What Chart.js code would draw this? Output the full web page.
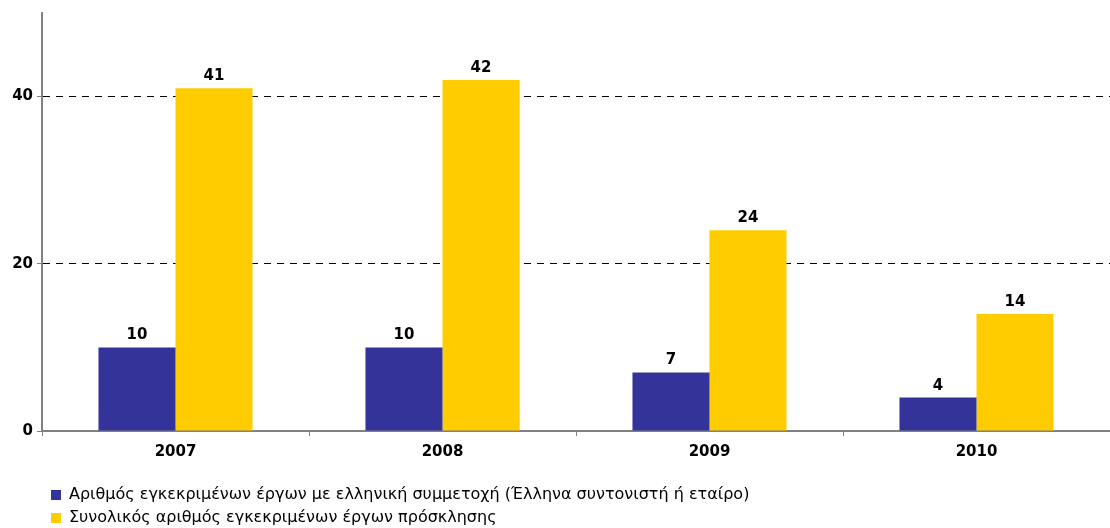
<!DOCTYPE html>
<html>
<head>
<meta charset="utf-8">
<script src="https://cdn.jsdelivr.net/npm/chart.js@4/dist/chart.umd.min.js"></script>
<style>
html,body{margin:0;padding:0;background:#fff;}
#wrap{position:relative;width:1110px;height:528px;}
</style>
</head>
<body>
<div id="wrap"><canvas id="c" width="1110" height="528"></canvas></div>
<script>
const categories = ['2007', '2008', '2009', '2010'];
const greekParticipation = [10, 10, 7, 4];
const totalApproved = [41, 42, 24, 14];
const seriesNames = [
  'Αριθμός εγκεκριμένων έργων με ελληνική συμμετοχή (Έλληνα συντονιστή ή εταίρο)',
  'Συνολικός αριθμός εγκεκριμένων έργων πρόσκλησης'
];
const yTicks = [0, 20, 40];

const FONT = '"DejaVu Sans", Verdana, sans-serif';

const valueLabels = {
  id: 'valueLabels',
  afterDatasetsDraw(chart) {
    const ctx = chart.ctx;
    ctx.save();
    ctx.font = 'bold 15px ' + FONT;
    ctx.fillStyle = '#000';
    ctx.textAlign = 'center';
    ctx.textBaseline = 'alphabetic';
    chart.data.datasets.forEach((ds, i) => {
      const meta = chart.getDatasetMeta(i);
      meta.data.forEach((bar, j) => {
        ctx.fillText(String(ds.data[j]), bar.x, bar.y - 8);
      });
    });
    ctx.restore();
  }
};

const legendShift = {
  id: 'legendShift',
  afterUpdate(chart) {
    const lg = chart.legend;
    if (!lg) return;
    lg.left += 44; lg.right += 44;
    lg.top += 14; lg.bottom += 14;
    lg.adjustHitBoxes();
  }
};

new Chart(document.getElementById('c'), {
  type: 'bar',
  data: {
    labels: categories,
    datasets: [
      { label: seriesNames[0], data: greekParticipation, backgroundColor: '#333399', borderWidth: 0 },
      { label: seriesNames[1], data: totalApproved, backgroundColor: '#FFCC00', borderWidth: 0 }
    ]
  },
  options: {
    responsive: false,
    animation: false,
    devicePixelRatio: 1,
    layout: { autoPadding: false, padding: { left: 0, right: 0, top: 4, bottom: 6 } },
    datasets: { bar: { categoryPercentage: 0.577, barPercentage: 1 } },
    plugins: {
      tooltip: { enabled: false },
      legend: {
        position: 'bottom',
        align: 'start',
        labels: {
          boxWidth: 10,
          boxHeight: 10,
          padding: 7,
          color: '#000',
          font: { family: FONT, size: 16 }
        }
      }
    },
    scales: {
      x: {
        afterFit: (axis) => { axis.height = 35; },
        grid: {
          offset: true,
          drawOnChartArea: false,
          drawTicks: true,
          tickLength: 5,
          color: '#808080'
        },
        border: { color: '#808080', width: 2 },
        ticks: { color: '#000', font: { family: FONT, size: 15, weight: 'bold' }, padding: 7 }
      },
      y: {
        min: 0,
        max: 50,
        afterBuildTicks: (axis) => { axis.ticks = yTicks.map(v => ({ value: v })); },
        afterFit: (axis) => { axis.width = 42; },
        grid: {
          color: (c) => c.tick && c.tick.value === 0 ? 'rgba(0,0,0,0)' : '#000',
          tickColor: '#808080',
          tickLength: 5,
          lineWidth: 1
        },
        border: { color: '#808080', width: 2, dash: [7, 6] },
        ticks: { color: '#000', font: { family: FONT, size: 15, weight: 'bold' }, padding: 4 }
      }
    }
  },
  plugins: [valueLabels, legendShift]
});
</script>
</body>
</html>
